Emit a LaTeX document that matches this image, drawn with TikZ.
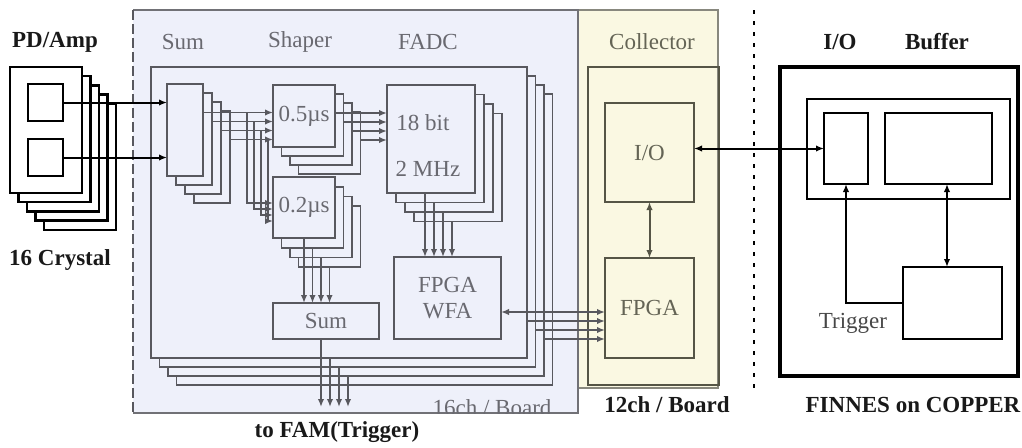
\documentclass[tikz,border=0pt]{standalone}
\usepackage{fontspec}
\setmainfont{Liberation Serif}
\usetikzlibrary{arrows.meta,calc}
\definecolor{bluefill}{RGB}{238,240,250}
\definecolor{yelfill}{RGB}{250,248,226}
\definecolor{bline}{RGB}{88,88,94}
\definecolor{btext}{RGB}{105,105,112}
\definecolor{yline}{RGB}{85,85,70}
\definecolor{ytext}{RGB}{100,100,85}
\definecolor{dtext}{RGB}{25,25,25}
\newcommand{\mkbox}[7][]{\node[#1, inner sep=0pt, outer sep=0pt, minimum width={((#5)-(#3))*0.5pt}, minimum height={((#6)-(#4))*0.5pt}] (#2) at ({((#3)+(#5))/2},{((#4)+(#6))/2}) {#7};}
\tikzset{
  tipa/.tip={Latex[length=4pt,width=3.2pt]},
  bstack/.style={draw=bline, fill=bluefill, line width=0.9pt, text=btext},
  pdbox/.style={draw=black, fill=white, line width=1.2pt},
  ybox/.style={draw=yline, fill=yelfill, line width=1pt, text=ytext},
  kbox/.style={draw=black, line width=1.2pt},
  gline/.style={draw=bline, line width=0.9pt},
  garr/.style={draw=bline, line width=0.9pt, -tipa},
  karr/.style={draw=black, line width=1pt, -tipa},
  yarr/.style={draw=yline, line width=1pt, tipa-tipa},
  glabel/.style={text=btext},
  ylabel/.style={text=ytext},
  dlabel/.style={text=dtext, font=\fontsize{11.5}{13}\selectfont\bfseries},
  tlabel/.style={text=dtext!80},
}
\begin{document}
\begin{tikzpicture}[x=0.5pt,y=-0.5pt, font=\fontsize{11.5}{13}\selectfont]
\useasboundingbox (0,0) rectangle (1022,447);
% ---------- regions
\mkbox[fill=bluefill]{blueregion}{133}{10}{578}{413}{}
\mkbox[fill=yelfill, draw=yline!70, line width=0.8pt]{yelregion}{578}{10}{718}{388}{}
\draw[bline!85, line width=0.8pt] (blueregion.north west) -- (blueregion.north east) -- (blueregion.south east) -- (blueregion.south west);
\draw[bline, line width=0.8pt, dash pattern=on 5pt off 2pt] (blueregion.north west) -- (blueregion.south west);
\mkbox[draw=yline, line width=1pt]{colbox}{588}{67}{719}{385}{}
\coordinate (dtop) at (754,10);
\coordinate (dbot) at (754,393);
\draw[black, line width=1.3pt, dash pattern=on 2pt off 3.5pt] (dtop) -- (dbot);
% ---------- PD/Amp stack
\foreach \i in {4,3,2,1,0} {\mkbox[pdbox]{pd\i}{10+8.5*\i}{67+9.2*\i}{82+8.5*\i}{193+9.2*\i}{}}
\mkbox[pdbox]{pdA}{28}{84}{63}{121}{}
\mkbox[pdbox]{pdB}{28}{139}{63}{176}{}
% ---------- board stack
\foreach \i in {3,2,1,0} {\mkbox[bstack]{board\i}{151+8.5*\i}{67+9*\i}{527+8.5*\i}{358+9*\i}{}}
% sum stack
\foreach \i in {3,2,1,0} {\mkbox[bstack]{sum\i}{167+9*\i}{84+9*\i}{203+9*\i}{176+9*\i}{}}
% shaper 0.2
\foreach \i in {3,2,1} {\mkbox[bstack]{tw\i}{273+8.5*\i}{177+9.7*\i}{335+8.5*\i}{238+9.7*\i}{}}
\mkbox[bstack]{tw0}{273}{177}{335}{238}{0.2µs}
% shaper 0.5
\foreach \i in {3,2,1} {\mkbox[bstack]{sh\i}{273+8.5*\i}{85+9*\i}{335+8.5*\i}{147+9*\i}{}}
\mkbox[bstack]{sh0}{273}{85}{335}{147}{0.5µs}
% FADC
\foreach \i in {3,2,1,0} {\mkbox[bstack]{fadc\i}{387+9*\i}{85+9.5*\i}{475+9*\i}{193+9.5*\i}{}}
\node[glabel] (l18) at (423,123) {18 bit};
\node[glabel] (l2m) at (428,169) {2 MHz};
% Sum / FPGA WFA
\mkbox[bstack]{sumb}{273}{303}{379}{339}{Sum}
\mkbox[bstack, align=center]{wfa}{394}{257}{501}{339}{FPGA\\WFA}
% collector
\mkbox[ybox]{cio}{605}{103}{694}{202}{I/O}
\mkbox[ybox]{cfpga}{605}{258}{694}{358}{FPGA}
% FINNES
\mkbox[draw=black, line width=1.6pt]{fout}{780}{67}{1018}{376}{}
\mkbox[kbox]{fin}{807}{99}{1010}{199}{}
\mkbox[kbox, line width=1.4pt]{fio}{824}{113}{868}{184}{}
\mkbox[kbox, line width=1.4pt]{buf}{885}{113}{992}{184}{}
\mkbox[kbox, line width=1.4pt]{trg}{903}{267}{1002}{339}{}
% ---------- labels
\node[glabel] (lsum) at (183,42) {Sum};
\node[glabel] (lshaper) at (300,42) {Shaper};
\node[glabel] (lfadc) at (428,42) {FADC};
\node[ylabel] (lcol) at (652,42) {Collector};
\node[dlabel] (lpd) at (55,42) {PD/Amp};
\node[dlabel] (l16c) at (60,260) {16 Crystal};
\node[dlabel] (lio) at (840,42) {I/O};
\node[dlabel] (lbuf) at (937,42) {Buffer};
\node[dlabel] (l12) at (667,405) {12ch / Board};
\node[dlabel] (lfin) at (913,405) {FINNES on COPPER};
\node[dlabel] (lfam) at (337,432) {to FAM(Trigger)};
\node[tlabel] (ltrg) at (853,323) {Trigger};
\begin{scope}
\clip (blueregion.north west) rectangle (blueregion.south east);
\node[glabel, anchor=base] (l16) at (492,415) {16ch / Board};
\end{scope}
% ---------- connectors
\draw[karr] (pdA.east) -- (pdA.east -| sum0.west);
\draw[karr] (pdB.east) -- (pdB.east -| sum0.west);
\foreach \i in {0,1,2,3} {
  \coordinate (s\i) at ($(sum\i.north east)+(0,28.5)$);
  \draw[garr] (s\i) -- (s\i -| sh0.west);
  \coordinate (bx\i) at ({247+7*\i},0);
  \coordinate (be\i) at ($(tw0.north west)+(0,{26+6*\i})$);
  \draw[garr] (bx\i |- s\i) |- (be\i);
  \coordinate (f\i) at ($(sh\i.north east)+(0,28)$);
  \draw[garr] (f\i) -- (f\i -| fadc0.west);
  \coordinate (w\i) at ($(fadc\i.south west)+(38,0)$);
  \draw[garr] (w\i) -- (w\i |- wfa.north);
  \coordinate (t\i) at ($(tw\i.south west)+(31,0)$);
  \draw[garr] (t\i) -- (t\i |- sumb.north);
}
\coordinate (famlvl) at (337,407);
\coordinate (m0) at ($(sumb.south west)+(48,0)$);
\draw[garr] (m0) -- (m0 |- famlvl);
\foreach \i/\j in {1/0,2/1,3/2} {
  \coordinate (mx\i) at ({321+9*\i},0);
  \draw[garr] (mx\i |- board\j.south) -- (mx\i |- famlvl);
  \coordinate (ry\i) at (0,{312+9*\i});
  \draw[garr] (ry\i -| board\j.east) -- (ry\i -| cfpga.west);
}
\coordinate (r0) at ($(wfa.east)+(0,14)$);
\draw[garr, tipa-tipa] (r0) -- (r0 -| cfpga.west);
\draw[yarr] (cio.south) -- (cfpga.north);
\draw[karr, tipa-tipa] (cio.east |- fio.west) -- (fio.west);
\draw[karr] (trg.west) -| (fio.south);
\coordinate (bufc) at ($(buf.south)+(8.5,0)$);
\draw[karr, tipa-tipa] (bufc) -- (bufc |- trg.north);
\end{tikzpicture}
\end{document}
